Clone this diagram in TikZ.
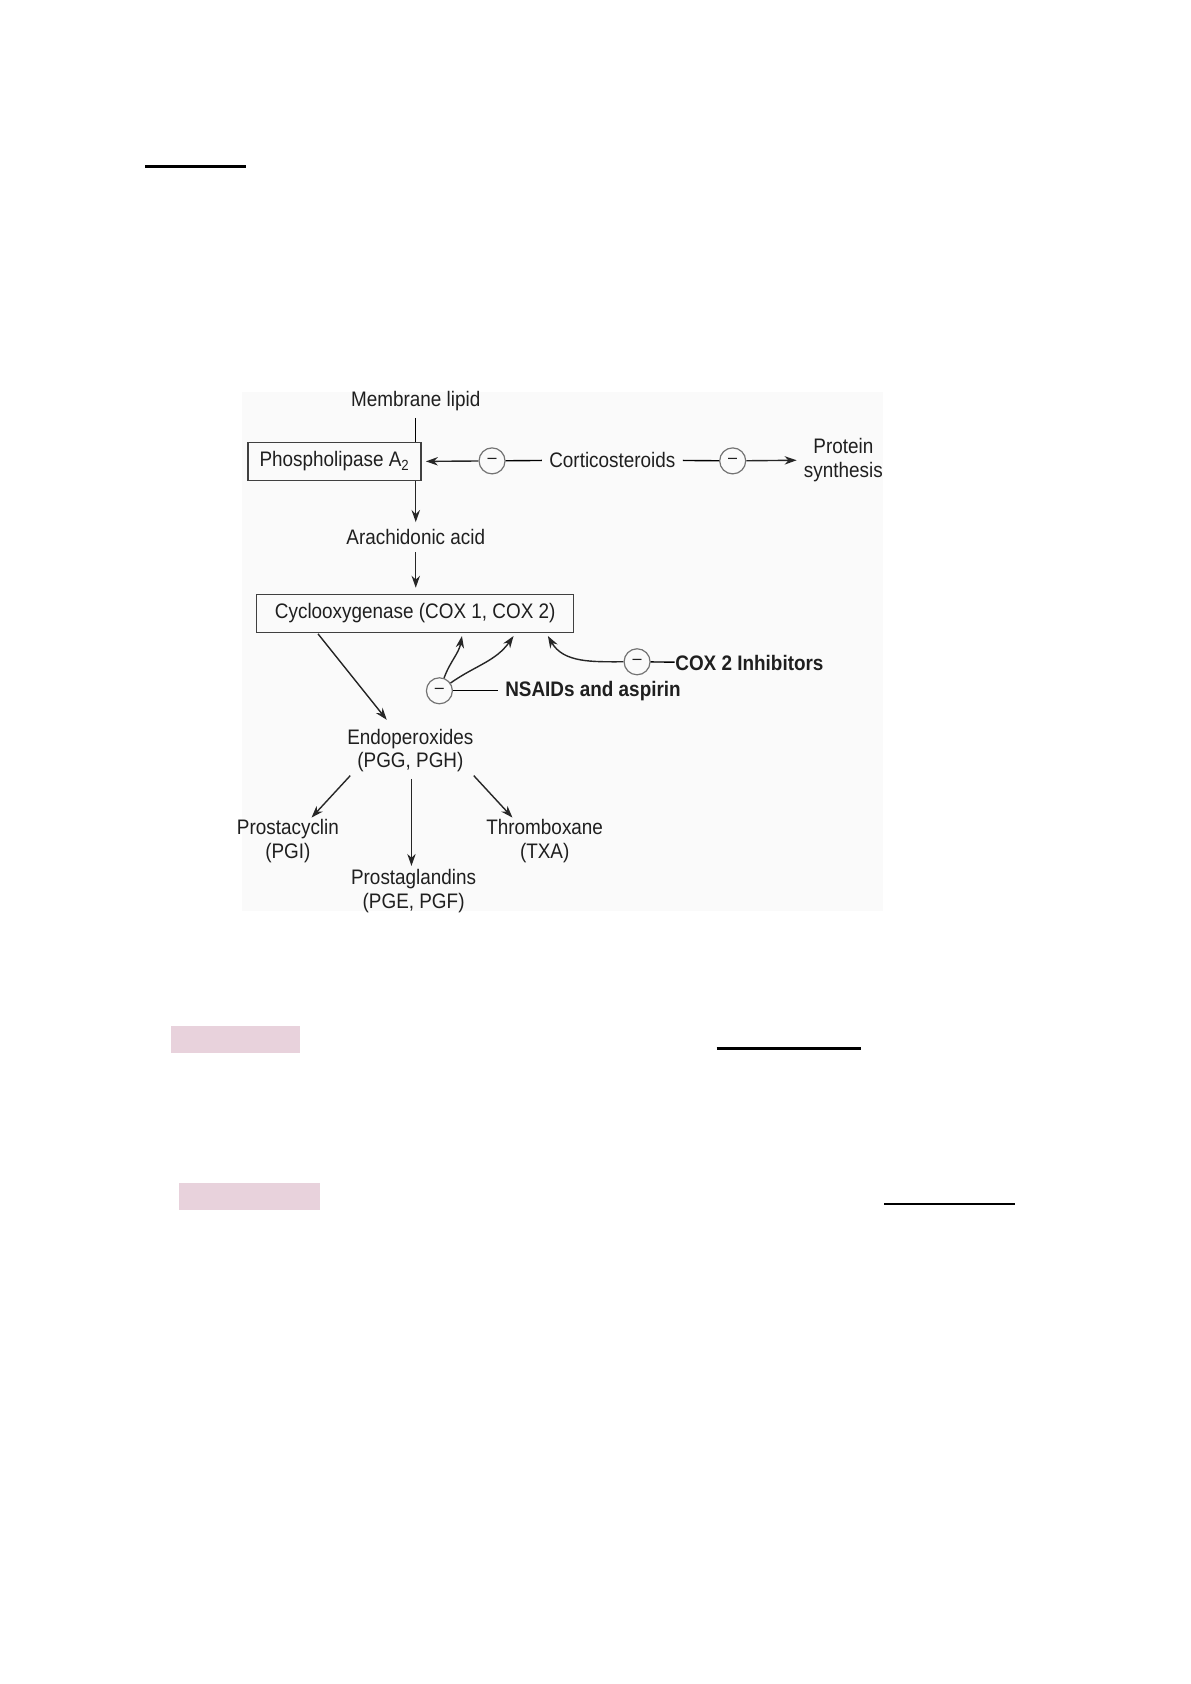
\documentclass[tikz,border=0pt]{standalone}
\usepackage{fontspec}
\setmainfont{Liberation Sans}[FakeStretch=0.9]
\usetikzlibrary{arrows.meta,calc}
\definecolor{pinkbar}{RGB}{232,210,220}

\begin{document}
\begin{tikzpicture}[x=0.5371pt,y=0.5371pt,line width=0.7pt,
    every node/.style={font=\fontsize{10.5}{11.8}\selectfont,text=black!88,align=center},
    strong/.style={font=\fontsize{10.5}{11.8}\selectfont\bfseries},
    box/.style={draw=black!75,line width=0.7pt,minimum height=19pt,inner xsep=0pt},
    minus/.style={circle,draw=black!55,line width=0.6pt,minimum size=13pt,inner sep=0pt,font=\small},
    arr/.style={-{Stealth[length=6pt,width=4.2pt]},black!85}]
    \useasboundingbox (0,0) rectangle (1108.4,-1567.5);
    \fill[black!2] (225,-365) rectangle (822,-848);
    \draw[line width=1.1pt] (135,-155) -- (229,-155);
    \foreach \a/\b/\y in {667/801/976, 823/945/1121}
      \draw[line width=1.1pt] (\a,-\y) -- (\b,-\y);
    \foreach \a/\b/\y in {159/279/955, 167/298/1101}
      \fill[pinkbar] (\a,-\y) rectangle (\b,-\y-25);
    \node (ML) at (387,-373) {Membrane lipid};
    \node[box,minimum width=86.5pt] (PL) at (311.5,-429.5) {Phospholipase A\textsubscript{2}};
    \node (AA) at (387,-500) {Arachidonic acid};
    \node[box,minimum width=158.5pt] (CX) at (386.5,-571) {Cyclooxygenase (COX 1, COX 2)};
    \node[minus] (C1) at (458,-429) {--};
    \node (CS) at (570,-428) {Corticosteroids};
    \node[minus] (C2) at (682,-429) {--};
    \node (PS) at (785,-428) {Protein\\synthesis};
    \node[minus] (C3) at (409,-643) {--};
    \node[strong] (NS) at (552,-643) {NSAIDs and aspirin};
    \node[minus] (C4) at (593,-616) {--};
    \node[strong,anchor=west,inner xsep=0pt] (CI) at (628,-617) {COX 2 Inhibitors};
    \node (EP) at (382,-698.5) {Endoperoxides\\(PGG, PGH)};
    \node (PI) at (268,-783) {Prostacyclin\\(PGI)};
    \node (TX) at (507,-783) {Thromboxane\\(TXA)};
    \node (PG) at (385,-829.5) {Prostaglandins\\(PGE, PGF)};
    \draw (ML) -- (ML |- PL.north);
    \draw[arr] (ML |- PL.south) -- (AA);
    \draw[arr,shorten >=3pt] (AA) -- (AA |- CX.north);
    \draw[arr,shorten >=2pt] (C1) -- (PL.east);
    \draw (CS) -- (C1);
    \draw (CS) -- (C2);
    \draw[arr] (C2) -- (PS);
    \draw[arr] ($(CX)+(-90.5,-19)$) -- ($(EP)+(-22,28.5)$);
    \draw[arr] (C3) to[out=70,in=-100] ($(CX)+(43.5,-21)$);
    \draw[arr] (C3) to[out=35,in=-125] ($(CX)+(91.5,-21)$);
    \draw[arr] (C4) to[out=180,in=-60] ($(CX)+(123.5,-21)$);
    \draw (C3) -- (NS);
    \draw (C4) -- (CI);
    \foreach \t/\sx/\sy/\ex/\ey in {PI/-56/-23.5/22/22, PG/1/-26.5/-2/23.5, TX/59/-23.5/-30/22}
      \draw[arr] ($(EP)+(\sx,\sy)$) -- ($(\t)+(\ex,\ey)$);
\end{tikzpicture}
\end{document}
